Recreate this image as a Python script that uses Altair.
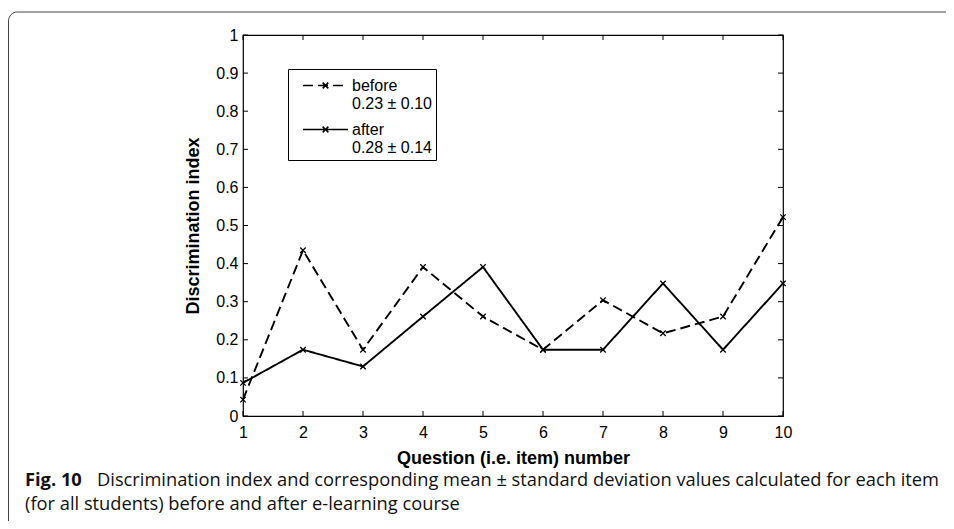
import altair as alt
import pandas as pd

# ---- data ----
questions = [1, 2, 3, 4, 5, 6, 7, 8, 9, 10]
before = [0.043, 0.435, 0.174, 0.391, 0.261, 0.174, 0.304, 0.217, 0.261, 0.522]
after = [0.087, 0.174, 0.130, 0.261, 0.391, 0.174, 0.174, 0.348, 0.174, 0.348]
series_names = ["before", "after"]
series_stats = ["0.23 ± 0.10", "0.28 ± 0.14"]
x_ticks = [1, 2, 3, 4, 5, 6, 7, 8, 9, 10]
y_ticks = [0, 0.1, 0.2, 0.3, 0.4, 0.5, 0.6, 0.7, 0.8, 0.9, 1]
x_title = "Question (i.e. item) number"
y_title = "Discrimination index"
caption_label = "Fig. 10"
caption_lines = [
    "Discrimination index and corresponding mean ± standard deviation values calculated for each item",
    "(for all students) before and after e-learning course",
]

rows = []
for name, vals in zip(series_names, [before, after]):
    for q, v in zip(questions, vals):
        rows.append({"q": q, "v": v, "series": name})
df = pd.DataFrame(rows)

W, H = 540, 381
AX_FONT = "Liberation Sans"
CAP_FONT = "Open Sans"
CAP_SIZE = 18.3

xs = alt.Scale(domain=[1, 10], nice=False, zero=False)
ys = alt.Scale(domain=[0, 1], nice=False, zero=False)

label_expr = (
    f"datum.label == '{series_names[0]}' ? ['{series_names[0]}', '{series_stats[0]}'] : "
    f"['{series_names[1]}', '{series_stats[1]}']"
)

legend = alt.Legend(
    title=None,
    orient="none",
    legendX=45,
    legendY=34,
    strokeColor="black",
    fillColor="white",
    padding=4,
    symbolType="M-2,0L2,0M-0.25,-0.25L0.25,0.25M-0.25,0.25L0.25,-0.25",
    symbolSize=506,
    symbolStrokeWidth=1.6,
    symbolStrokeColor="black",
    symbolOffset=21,
    labelOffset=14,
    labelFont=AX_FONT,
    labelFontSize=16,
    labelColor="black",
    labelExpr=label_expr,
    rowPadding=5,
)

x_axis = alt.Axis(
    values=x_ticks, title=x_title, labelPadding=8, labelFlush=False,
    titleX=W / 2, titleY=47, titleBaseline="alphabetic", titleAlign="center",
)
y_axis = alt.Axis(
    values=y_ticks, title=y_title, labelPadding=5, format="~g", labelFlush=False,
    titleX=-50, titleY=H / 2, titleAngle=270, titleBaseline="middle", titleAlign="center",
)

X = alt.X("q:Q", scale=xs, axis=x_axis)
Y = alt.Y("v:Q", scale=ys, axis=y_axis)

lines = alt.Chart(df).mark_line(color="black", strokeWidth=1.9).encode(
    x=X,
    y=Y,
    strokeDash=alt.StrokeDash(
        "series:N",
        scale=alt.Scale(domain=series_names, range=[[10, 5], [1, 0]]),
        legend=legend,
    ),
)

points = alt.Chart(df).mark_point(
    shape="M-1,-1L1,1M-1,1L1,-1", size=30, filled=False,
    color="black", strokeWidth=1.3, opacity=1,
).encode(x=X, y=Y)

xt = pd.DataFrame({"q": x_ticks})
yt = pd.DataFrame({"v": y_ticks})
tick_style = dict(color="black", strokeWidth=1)
tick_bottom = alt.Chart(xt).mark_rule(**tick_style).encode(
    x=X, y=alt.value(H), y2=alt.value(H - 5))
tick_top = alt.Chart(xt).mark_rule(**tick_style).encode(
    x=X, y=alt.value(0), y2=alt.value(5))
tick_left = alt.Chart(yt).mark_rule(**tick_style).encode(
    y=Y, x=alt.value(0), x2=alt.value(5))
tick_right = alt.Chart(yt).mark_rule(**tick_style).encode(
    y=Y, x=alt.value(W), x2=alt.value(W - 5))

border = alt.Chart(alt.Data(values=[{"b": 1}])).mark_rect(
    fillOpacity=0, stroke="#444", strokeWidth=1, cornerRadius=9,
).encode(
    x=alt.value(-234.5), x2=alt.value(W + 300),
    y=alt.value(-23), y2=alt.value(H + 300),
)

cap_bold = alt.Chart(alt.Data(values=[{"t": caption_label}])).mark_text(
    font=CAP_FONT, fontSize=CAP_SIZE, fontWeight="bold", align="left",
    baseline="alphabetic", color="#111",
).encode(text="t:N", x=alt.value(-218), y=alt.value(451))

cap1 = alt.Chart(alt.Data(values=[{"t": caption_lines[0]}])).mark_text(
    font=CAP_FONT, fontSize=CAP_SIZE, align="left", baseline="alphabetic", color="#111",
).encode(text="t:N", x=alt.value(-146), y=alt.value(451))

cap2 = alt.Chart(alt.Data(values=[{"t": caption_lines[1]}])).mark_text(
    font=CAP_FONT, fontSize=CAP_SIZE, align="left", baseline="alphabetic", color="#111",
).encode(text="t:N", x=alt.value(-218), y=alt.value(475))

chart = alt.layer(
    lines, points, tick_bottom, tick_top, tick_left, tick_right,
    border, cap_bold, cap1, cap2,
).properties(
    width=W, height=H,
    padding={"left": 235, "top": 27, "right": 163, "bottom": 105},
    autosize=alt.AutoSizeParams(type="none"),
).configure_view(
    stroke="black", strokeWidth=1.2,
).configure_axis(
    domain=False, ticks=False, tickSize=0, grid=False,
    labelFont=AX_FONT, labelFontSize=16, labelColor="black",
    titleFont=AX_FONT, titleFontSize=18, titleFontWeight="bold", titleColor="black",
)

chart.save("out.html", embed_options={"renderer": "svg", "actions": False})
